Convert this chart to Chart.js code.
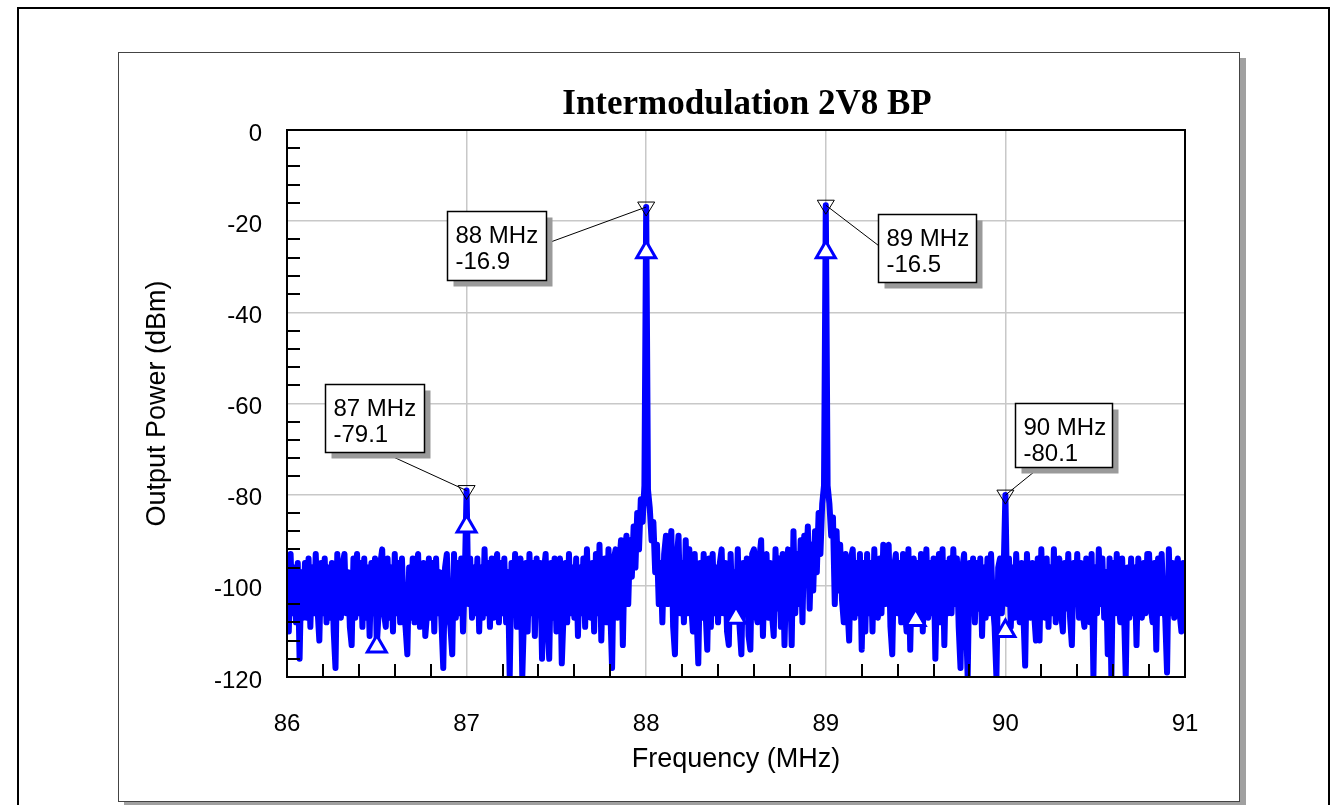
<!DOCTYPE html>
<html><head><meta charset="utf-8">
<script src="https://cdn.jsdelivr.net/npm/chart.js@4.4.1/dist/chart.umd.min.js"></script>
<style>html,body{margin:0;padding:0;background:#fff;overflow:hidden}canvas{display:block}</style>
</head><body>
<canvas id="c" width="1333" height="805"></canvas>
<script>
const chartTitle = 'Intermodulation 2V8 BP';
const xAxisTitle = 'Frequency (MHz)';
const yAxisTitle = 'Output Power (dBm)';
const xTickValues = [86, 87, 88, 89, 90, 91];
const yTickValues = [0, -20, -40, -60, -80, -100, -120];
const xMinorStep = 0.2;
const yMinorStep = 4;
const freqStartMHz = 86;
const freqStepMHz = 0.01;
// sampled trace, 86.00 .. 91.00 MHz every 0.01 MHz
const powerDbm = [
-94,-110,-93,-106,-96,-108,-95,-116,-97,-107,
-95,-107,-94,-109,-96,-106,-93,-105,-112,-95,
-106,-94,-108,-96,-107,-95,-110,-118,-93,-106,
-107,-95,-93,-106,-97,-109,-113,-94,-107,-93,
-106,-95,-109,-94,-107,-96,-111,-95,-106,-94,
-113,-106,-95,-92,-106,-109,-94,-107,-96,-110,
-93,-106,-95,-108,-94,-105,-109,-115,-96,-107,
-94,-108,-96,-93,-109,-105,-95,-111,-106,-94,
-107,-95,-110,-94,-106,-97,-108,-118,-96,-93,
-106,-109,-115,-93,-107,-95,-106,-94,-110,-98,
-79.1,-104,-94,-107,-96,-106,-94,-110,-96,-107,
-92,-106,-95,-109,-94,-107,-96,-93,-108,-95,
-106,-94,-108,-97,-120,-95,-106,-93,-109,-96,
-94,-120,-106,-95,-110,-93,-106,-95,-111,-94,
-106,-95,-116,-97,-93,-108,-116,-95,-107,-94,
-110,-96,-94,-117,-106,-95,-108,-93,-106,-96,
-107,-94,-111,-96,-106,-94,-109,-92,-105,-107,
-95,-110,-93,-106,-91,-112,-96,-94,-108,-92,
-105,-118,-94,-92,-107,-95,-90,-113,-93,-89,
-104,-90,-98,-87,-96,-84,-92,-81,-86,-78,
-16.9,-79,-83,-90,-86,-97,-91,-104,-95,-108,
-93,-89,-104,-92,-88,-109,-115,-94,-89,-106,
-95,-108,-90,-106,-92,-104,-110,-93,-106,-117,
-95,-107,-93,-105,-114,-94,-109,-93,-106,-96,
-108,-95,-92,-106,-95,-110,-113,-93,-106,-97,
-107,-92,-109,-115,-95,-106,-94,-111,-114,-93,
-92,-106,-108,-94,-90,-111,-96,-93,-107,-95,
-106,-111,-92,-105,-94,-109,-93,-113,-97,-92,
-96,-113,-88,-106,-93,-104,-90,-108,-89,-97,
-87,-105,-91,-101,-88,-97,-84,-93,-82,-78,
-16.5,-78,-82,-89,-85,-104,-88,-101,-91,-103,
-108,-93,-104,-112,-94,-92,-107,-95,-106,-93,
-114,-95,-110,-93,-106,-95,-110,-92,-105,-107,
-94,-106,-91,-104,-94,-91,-109,-115,-96,-93,
-106,-95,-108,-93,-105,-110,-92,-114,-96,-94,
-107.5,-95,-106,-93,-110,-97,-92,-107,-95,-106,
-94,-116,-97,-93,-108,-92,-113,-95,-106,-94,
-106,-92,-104,-94,-109,-118,-96,-93,-107,-120,
-95,-106,-94,-108,-95,-105,-94,-111,-96,-107,
-94,-106,-93,-104,-109,-120,-96,-94,-106,-97,
-80.1,-104,-94,-109,-96,-107,-93,-104,-108,-95,
-106,-117.5,-93,-104,-107,-95,-106,-112,-94,-112,
-92,-105,-107,-94,-109,-96,-106,-92,-108,-96,
-94,-106,-110,-95,-105,-93,-107,-113,-95,-104,
-93,-107,-95,-106,-109,-94,-104,-108,-93,-120,
-96,-106,-92,-104,-94,-107,-97,-115,-94,-120,
-95,-106,-93,-104,-108,-94,-105,-120,-96,-107,
-94,-106,-96,-113,-94,-105,-107,-95,-106,-93,
-93,-105,-108,-95,-114,-94,-106,-93,-104,-107,
-119,-92,-106,-95,-107,-96,-94,-106,-110,-95,
-103
];
// trace symbols (open triangles)
const symbolFreq = [86.5, 87, 88, 88.5, 89, 89.5, 90];
const symbolPower = [-113.3, -87, -26.8, -107, -26.8, -107.5, -109.9];
// marker readouts
const markerFreq = [87, 88, 89, 90];
const markerPower = [-79.1, -16.9, -16.5, -80.1];

const tracePoints = powerDbm.map((p, i) => ({ x: +(freqStartMHz + i * freqStepMHz).toFixed(2), y: p }));
const symbolPoints = symbolFreq.map((f, i) => ({ x: f, y: symbolPower[i] }));

// label box placement relative to marker pixel (style/layout only)
const boxLayout = [
  { dx: -142, dy: -107, w: 99, h: 68, ax: 58, ay: 68 },
  { dx: -199, dy: 4, w: 99, h: 69, ax: 99, ay: 32 },
  { dx: 52, dy: 9, w: 98, h: 68, ax: 0, ay: 31 },
  { dx: 10, dy: -92, w: 97, h: 64, ax: 24, ay: 64 }
];

const framePlugin = {
  id: 'frame',
  beforeDraw(chart) {
    const c = chart.ctx;
    c.save();
    c.fillStyle = '#fff'; c.fillRect(0, 0, chart.width, chart.height);
    c.strokeStyle = '#000'; c.lineWidth = 2; c.strokeRect(18, 8, 1311, 820);
    c.fillStyle = '#a0a0a0'; c.fillRect(124, 58, 1122, 760);
    c.fillStyle = '#fff'; c.fillRect(118, 52, 1122, 750);
    c.strokeStyle = '#444'; c.lineWidth = 1; c.strokeRect(118.5, 52.5, 1121, 749);
    c.fillStyle = '#000';
    c.font = 'bold 35px "Liberation Serif", "Times New Roman", serif';
    c.textAlign = 'center'; c.textBaseline = 'middle';
    c.fillText(chartTitle, 747, 105);
    c.restore();
  }
};

const axesPlugin = {
  id: 'axesDecor',
  afterDatasetsDraw(chart) {
    const c = chart.ctx, xs = chart.scales.x, ys = chart.scales.y, a = chart.chartArea;
    c.save();
    c.strokeStyle = '#000'; c.lineWidth = 2;
    c.beginPath();
    const xMin = xTickValues[0], xMax = xTickValues[xTickValues.length - 1];
    const nx = Math.round((xMax - xMin) / xMinorStep);
    for (let k = 1; k < nx; k++) {
      const v = xMin + k * xMinorStep;
      if (xTickValues.some(t => Math.abs(t - v) < 1e-6)) continue;
      const px = Math.round(xs.getPixelForValue(v));
      c.moveTo(px, a.bottom); c.lineTo(px, a.bottom - 13);
    }
    const yMin = Math.min(...yTickValues), yMax = Math.max(...yTickValues);
    const ny = Math.round((yMax - yMin) / yMinorStep);
    for (let k = 1; k < ny; k++) {
      const v = yMin + k * yMinorStep;
      if (yTickValues.some(t => Math.abs(t - v) < 1e-6)) continue;
      const py = Math.round(ys.getPixelForValue(v));
      c.moveTo(a.left, py); c.lineTo(a.left + 13, py);
    }
    c.stroke();
    c.strokeRect(a.left, a.top, a.right - a.left, a.bottom - a.top);

    // marker readouts
    c.font = '24px "Liberation Sans", Arial, sans-serif';
    c.textBaseline = 'alphabetic';
    c.textAlign = 'left';
    markerFreq.forEach((f, i) => {
      const px = xs.getPixelForValue(f), py = ys.getPixelForValue(markerPower[i]);
      const L = boxLayout[i];
      const bx = Math.round(px + L.dx) + 0.5, by = Math.round(py + L.dy) + 0.5;
      c.strokeStyle = '#000'; c.lineWidth = 1;
      c.beginPath(); c.moveTo(bx + L.ax, by + L.ay); c.lineTo(px, py); c.stroke();
      c.fillStyle = '#9a9a9a'; c.fillRect(bx + 6, by + 6, L.w, L.h);
      c.fillStyle = '#fff'; c.fillRect(bx, by, L.w, L.h);
      c.lineWidth = 1.5; c.strokeRect(bx, by, L.w, L.h);
      c.fillStyle = '#000';
      c.fillText(f + ' MHz', bx + 8, by + 31);
      c.fillText(markerPower[i].toFixed(1), bx + 8, by + 57);
      c.lineWidth = 1; c.strokeStyle = '#000';
      c.beginPath();
      c.moveTo(px - 8.5, py - 5); c.lineTo(px + 8.5, py - 5); c.lineTo(px, py + 9); c.closePath();
      c.stroke();
    });
    c.restore();
  }
};

Chart.defaults.font.family = '"Liberation Sans", Arial, sans-serif';
Chart.defaults.color = '#000';

new Chart(document.getElementById('c'), {
  type: 'line',
  data: {
    datasets: [
      {
        label: 'symbols', data: symbolPoints, showLine: false,
        pointStyle: 'triangle', pointRadius: 11, pointBorderWidth: 3,
        pointBorderColor: '#0000ff', pointBackgroundColor: '#ffffff', order: 0
      },
      {
        label: 'Output Power', data: tracePoints,
        borderColor: '#0000ff', borderWidth: 6, pointRadius: 0,
        borderJoinStyle: 'round', borderCapStyle: 'round', tension: 0, fill: false,
        order: 1, clip: 0
      }
    ]
  },
  options: {
    responsive: false, animation: false, events: [],
    layout: { padding: { left: 0, right: 148, top: 130, bottom: 0 } },
    plugins: {
      legend: { display: false }, tooltip: { enabled: false }, title: { display: false }
    },
    scales: {
      x: {
        type: 'linear', min: 86, max: 91,
        afterBuildTicks: s => { s.ticks = xTickValues.map(v => ({ value: v })); },
        afterFit: s => { s.height = 128; },
        grid: { color: '#c8c8c8', lineWidth: 1.5, drawTicks: false },
        border: { display: false },
        ticks: { padding: 33, font: { size: 24 }, color: '#000', maxRotation: 0, autoSkip: false },
        title: { display: true, text: xAxisTitle, color: '#000', font: { size: 27, lineHeight: 1.2 }, padding: { top: 0, bottom: 29 } }
      },
      y: {
        type: 'linear', min: -120, max: 0,
        afterBuildTicks: s => { s.ticks = yTickValues.map(v => ({ value: v })); },
        afterFit: s => { s.width = 287; },
        grid: { color: '#c8c8c8', lineWidth: 1.5, drawTicks: false },
        border: { display: false },
        ticks: { padding: 25, font: { size: 24 }, color: '#000', labelOffset: 4, autoSkip: false },
        title: { display: true, text: yAxisTitle, color: '#000', font: { size: 27, lineHeight: 1.2 }, padding: { top: 141, bottom: 0 } }
      }
    }
  },
  plugins: [framePlugin, axesPlugin]
});
</script>
</body></html>
